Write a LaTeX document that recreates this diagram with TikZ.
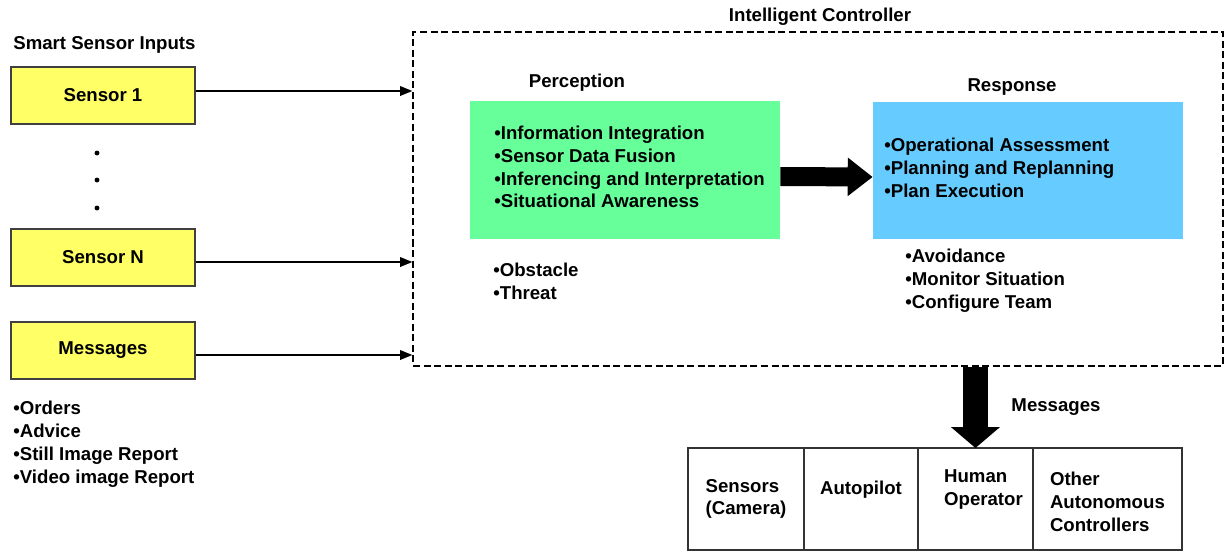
\documentclass[tikz,border=0pt]{standalone}
\usepackage{fontspec}
\setmainfont{Liberation Sans}
\usetikzlibrary{arrows.meta,positioning}
\definecolor{sensoryellow}{RGB}{255,255,102}
\definecolor{percgreen}{RGB}{102,255,153}
\definecolor{respblue}{RGB}{102,204,255}

\begin{document}
\begin{tikzpicture}[
  x=0.02cm, y=-0.02cm,
  txt/.style={font=\fontsize{10.6}{13}\selectfont\bfseries, inner sep=0pt},
  list/.style={txt, align=left, anchor=west},
  sensor/.style={draw=black!75, line width=0.9pt, fill=sensoryellow,
                 minimum width=3.68cm, minimum height=1.14cm, txt},
  stage/.style={fill=#1, minimum width=6.2cm, minimum height=2.76cm},
  cell/.style={draw=black!80, line width=0.9pt, outer sep=0pt,
               minimum height=2.04cm},
  feed/.style={-{Triangle[length=7pt,width=5.5pt]}, line width=0.8pt},
]
\useasboundingbox (0,0) rectangle (1225,552);

% Eingaenge
\node[list] (inlbl) at (13,45) {Smart Sensor Inputs};
\node[sensor] (s1) at (103,95.5) {Sensor 1};
\foreach \y in {153,180,208}
  \fill (97,\y) circle (1.4pt);
\node[sensor] (sn) at (103,257.5) {Sensor N};
\node[sensor] (msg) at (103,350.5) {Messages};
\node[list] (msglist) at (13,444)
  {•Orders\\•Advice\\•Still Image Report\\•Video image Report};

% Controller
\node[draw, dashed, dash pattern=on 4pt off 2pt, line width=0.8pt,
      minimum width=16.2cm, minimum height=6.68cm] (ctrl) at (818,199) {};
\node[txt] (ctrllbl) at (820,17) {Intelligent Controller};

\draw[feed] ([yshift=0.09cm]s1.east) -- ([yshift=0.09cm]s1.east -| ctrl.west);
\draw[feed] ([yshift=-0.09cm]sn.east) -- ([yshift=-0.09cm]sn.east -| ctrl.west);
\draw[feed] ([yshift=-0.09cm]msg.east) -- ([yshift=-0.09cm]msg.east -| ctrl.west);

% Perception
\node[txt] (perclbl) at (577,83) {Perception};
\node[stage=percgreen] (perc) at (625,170) {};
\node[list] (perclist) at (494,167)
  {•Information Integration\\•Sensor Data Fusion\\
   •Inferencing and Interpretation\\•Situational Awareness};
\node[list] (threats) at (493,281) {•Obstacle\\•Threat};

% Response
\node[txt] (resplbl) at (1012,87) {Response};
\node[stage=respblue] (resp) at (1028,170.5) {};
\node[list] (resplist) at (884,168)
  {•Operational Assessment\\•Planning and Replanning\\•Plan Execution};
\node[list] (actions) at (905,281)
  {•Avoidance\\•Monitor Situation\\•Configure Team};

\draw[line width=0.38cm, -{Triangle[length=0.5cm,width=0.74cm]}]
  ([yshift=-0.13cm]perc.east) -- ([yshift=-0.13cm]resp.west);

% Empfaenger
\node[cell, minimum width=2.32cm] (cam) at (746,499) {};
\node[cell, minimum width=2.28cm, right=0pt of cam] (auto) {};
\node[cell, minimum width=2.3cm, right=0pt of auto] (op) {};
\node[cell, minimum width=2.98cm, right=0pt of op] (other) {};
\node[txt, align=left] at (cam.center) {Sensors\\(Camera)};
\node[txt] at ([yshift=0.18cm]auto.center) {Autopilot};
\node[txt, align=left] at ([xshift=0.16cm,yshift=0.19cm]op.center) {Human\\Operator};
\node[txt, align=left] at ([yshift=-0.06cm]other.center)
  {Other\\Autonomous\\Controllers};

\draw[line width=0.5cm, -{Triangle[length=0.42cm,width=0.96cm]}]
  (ctrl.south -| op.north) -- (op.north);
\node[txt] (outlbl) at (1056,407) {Messages};
\end{tikzpicture}
\end{document}
